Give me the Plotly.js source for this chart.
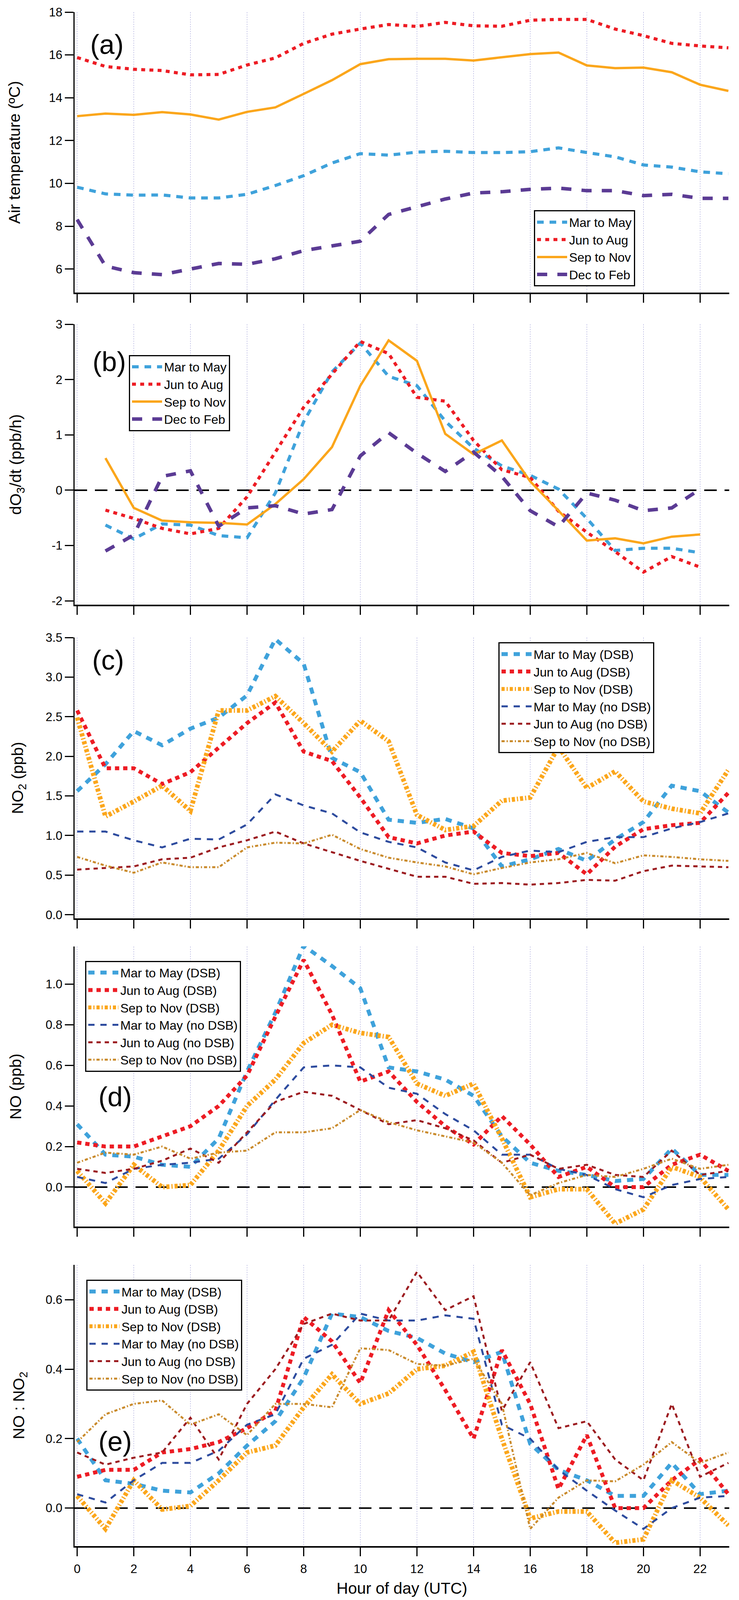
<!DOCTYPE html>
<html>
<head>
<meta charset="utf-8">
<script src="https://cdn.plot.ly/plotly-3.0.1.min.js"></script>
<style>
html, body { margin: 0; padding: 0; background: #ffffff; overflow: hidden; }
#chart { width: 1892px; }
</style>
</head>
<body>
<div id="chart"></div>
<script>
// ---------------- data ----------------
const hours = [0,1,2,3,4,5,6,7,8,9,10,11,12,13,14,15,16,17,18,19,20,21,22,23];
const hoursB = [1,2,3,4,5,6,7,8,9,10,11,12,13,14,15,16,17,18,19,20,21,22];

const seasonNames = ['Mar to May', 'Jun to Aug', 'Sep to Nov', 'Dec to Feb'];
const dsbNames = ['Mar to May (DSB)', 'Jun to Aug (DSB)', 'Sep to Nov (DSB)',
                  'Mar to May (no DSB)', 'Jun to Aug (no DSB)', 'Sep to Nov (no DSB)'];

// (a) Air temperature (ºC)
const tempMarMay = [9.82,9.51,9.45,9.46,9.32,9.32,9.49,9.90,10.36,10.95,11.39,11.32,11.46,11.50,11.44,11.44,11.48,11.66,11.44,11.24,10.86,10.76,10.54,10.45];
const tempJunAug = [15.88,15.46,15.33,15.27,15.07,15.09,15.53,15.86,16.54,16.97,17.21,17.42,17.33,17.52,17.36,17.34,17.62,17.66,17.66,17.21,16.90,16.54,16.42,16.33];
const tempSepNov = [13.14,13.26,13.20,13.33,13.22,12.98,13.34,13.55,14.18,14.82,15.57,15.80,15.82,15.82,15.74,15.88,16.04,16.11,15.51,15.38,15.41,15.19,14.61,14.32];
const tempDecFeb = [8.31,6.14,5.83,5.74,6.00,6.26,6.22,6.48,6.86,7.06,7.30,8.55,8.90,9.27,9.55,9.61,9.72,9.78,9.66,9.66,9.43,9.49,9.30,9.30];

// (b) dO3/dt (ppb/h), hours 1..22
const do3MarMay = [-0.63,-0.88,-0.61,-0.63,-0.82,-0.86,-0.05,1.24,2.14,2.66,2.06,1.89,1.25,0.76,0.44,0.27,0.02,-0.51,-1.09,-1.05,-1.05,-1.13];
const do3JunAug = [-0.36,-0.51,-0.69,-0.79,-0.69,-0.12,0.69,1.50,2.10,2.69,2.47,1.68,1.61,0.90,0.37,0.23,-0.38,-0.76,-1.11,-1.48,-1.20,-1.39];
const do3SepNov = [0.58,-0.32,-0.55,-0.58,-0.59,-0.62,-0.25,0.20,0.78,1.89,2.71,2.34,1.02,0.65,0.90,0.16,-0.37,-0.91,-0.87,-0.96,-0.84,-0.80];
const do3DecFeb = [-1.10,-0.81,0.25,0.35,-0.65,-0.32,-0.28,-0.43,-0.35,0.62,1.04,0.67,0.34,0.69,0.25,-0.37,-0.66,-0.05,-0.18,-0.37,-0.32,0.02];

// (c) NO2 (ppb)
const no2MarMayDSB = [1.56,1.90,2.32,2.14,2.35,2.49,2.77,3.48,3.17,1.98,1.80,1.20,1.16,1.21,1.09,0.61,0.70,0.83,0.68,0.95,1.17,1.63,1.56,1.29];
const no2JunAugDSB = [2.58,1.85,1.85,1.65,1.80,2.11,2.42,2.68,2.06,1.94,1.48,0.98,0.90,1.00,1.05,0.78,0.74,0.78,0.51,0.86,1.08,1.13,1.16,1.54];
const no2SepNovDSB = [2.49,1.24,1.43,1.63,1.31,2.58,2.58,2.76,2.42,2.06,2.45,2.19,1.26,1.07,1.12,1.44,1.48,2.12,1.60,1.81,1.43,1.34,1.28,1.83];
const no2MarMayNo  = [1.05,1.05,0.94,0.85,0.96,0.95,1.14,1.52,1.38,1.28,1.04,0.92,0.85,0.66,0.56,0.73,0.81,0.79,0.92,0.98,0.98,1.09,1.17,1.28];
const no2JunAugNo  = [0.57,0.59,0.61,0.70,0.72,0.85,0.94,1.05,0.90,0.79,0.68,0.58,0.48,0.48,0.39,0.40,0.38,0.40,0.44,0.43,0.55,0.62,0.61,0.60];
const no2SepNovNo  = [0.73,0.62,0.53,0.66,0.60,0.60,0.85,0.91,0.90,1.01,0.83,0.72,0.66,0.61,0.51,0.59,0.66,0.70,0.78,0.65,0.75,0.73,0.70,0.68];

// (d) NO (ppb)
const noMarMayDSB = [0.31,0.16,0.15,0.11,0.10,0.24,0.57,0.86,1.19,1.09,0.98,0.59,0.57,0.53,0.45,0.25,0.12,0.08,0.06,0.03,0.04,0.19,0.06,0.06];
const noJunAugDSB = [0.22,0.20,0.20,0.25,0.30,0.40,0.55,0.84,1.12,0.85,0.52,0.57,0.42,0.30,0.21,0.35,0.21,0.05,0.10,0.00,0.00,0.11,0.16,0.08];
const noSepNovDSB = [0.08,-0.08,0.11,0.00,0.01,0.18,0.40,0.53,0.71,0.80,0.76,0.74,0.51,0.45,0.51,0.24,-0.05,-0.01,-0.01,-0.18,-0.11,0.10,0.05,-0.11];
const noMarMayNo  = [0.05,0.02,0.09,0.11,0.12,0.14,0.26,0.43,0.59,0.60,0.59,0.49,0.46,0.36,0.28,0.16,0.16,0.09,0.06,-0.01,-0.05,0.01,0.04,0.05];
const noJunAugNo  = [0.09,0.07,0.09,0.13,0.19,0.12,0.27,0.42,0.47,0.45,0.38,0.31,0.33,0.29,0.23,0.12,0.16,0.09,0.11,0.06,0.05,0.18,0.06,0.08];
const noSepNovNo  = [0.12,0.17,0.16,0.20,0.14,0.17,0.18,0.27,0.27,0.29,0.38,0.32,0.28,0.25,0.22,0.12,-0.04,0.02,0.06,0.05,0.09,0.14,0.09,0.11];

// (e) NO : NO2
const ratioMarMayDSB = [0.20,0.08,0.07,0.05,0.045,0.10,0.18,0.25,0.375,0.56,0.55,0.51,0.49,0.445,0.42,0.45,0.185,0.11,0.08,0.035,0.035,0.13,0.04,0.05];
const ratioJunAugDSB = [0.09,0.11,0.11,0.16,0.17,0.19,0.23,0.28,0.55,0.48,0.36,0.57,0.47,0.34,0.20,0.455,0.30,0.055,0.21,0.00,0.00,0.08,0.14,0.04];
const ratioSepNovDSB = [0.035,-0.06,0.08,-0.004,0.006,0.08,0.16,0.18,0.29,0.385,0.30,0.33,0.40,0.41,0.45,0.20,-0.03,-0.01,-0.01,-0.10,-0.09,0.08,0.03,-0.05];
const ratioMarMayNo  = [0.04,0.016,0.08,0.13,0.13,0.165,0.24,0.27,0.43,0.47,0.56,0.54,0.54,0.555,0.545,0.24,0.20,0.11,0.05,-0.007,-0.06,0.00,0.03,0.035];
const ratioJunAugNo  = [0.16,0.125,0.145,0.16,0.26,0.14,0.30,0.40,0.53,0.56,0.54,0.54,0.68,0.57,0.61,0.28,0.42,0.23,0.25,0.14,0.08,0.30,0.09,0.13];
const ratioSepNovNo  = [0.19,0.27,0.30,0.31,0.24,0.27,0.21,0.30,0.30,0.29,0.46,0.455,0.415,0.41,0.43,0.30,-0.06,0.03,0.08,0.077,0.125,0.19,0.13,0.16];

// ticks
const xTickVals = [0,2,4,6,8,10,12,14,16,18,20,22];
const xTickText = ['0','2','4','6','8','10','12','14','16','18','20','22'];
const yTickValsA = [6,8,10,12,14,16,18];
const yTickTextA = ['6','8','10','12','14','16','18'];
const yTickValsB = [-2,-1,0,1,2,3];
const yTickTextB = ['-2','-1','0','1','2','3'];
const yTickValsC = [0,0.5,1,1.5,2,2.5,3,3.5];
const yTickTextC = ['0.0','0.5','1.0','1.5','2.0','2.5','3.0','3.5'];
const yTickValsD = [0,0.2,0.4,0.6,0.8,1.0];
const yTickTextD = ['0.0','0.2','0.4','0.6','0.8','1.0'];
const yTickValsE = [0,0.2,0.4,0.6];
const yTickTextE = ['0.0','0.2','0.4','0.6'];

// ---------------- styles ----------------
const FONT = 'Liberation Sans, Arial, Helvetica, sans-serif';
const C = {
  lightBlue: '#3FA2DB', red: '#ED1C24', orange: '#FBA61B', purple: '#5B3B94',
  darkBlue: '#2D4B9E', darkRed: '#9C1C20', gold: '#C98A2B'
};
const seasonStyles = [
  {color: C.lightBlue, width: 8, dash: '17px,15px'},
  {color: C.red, width: 8, dash: '10px,11px'},
  {color: C.orange, width: 6, dash: 'solid'},
  {color: C.purple, width: 9, dash: '26px,26px'}
];
const dsbStyles = [
  {color: C.lightBlue, width: 10, dash: '16px,15px'},
  {color: C.red, width: 10, dash: '11px,10px'},
  {color: C.orange, width: 12, dash: '8px,5px,3px,5px'},
  {color: C.darkBlue, width: 5, dash: '16px,15px'},
  {color: C.darkRed, width: 5, dash: '11px,10px'},
  {color: C.gold, width: 5, dash: '8px,5px,3px,5px'}
];

function mk(x, y, name, style, ax, leg) {
  return {
    type: 'scatter', mode: 'lines', x: x, y: y, name: name,
    line: {color: style.color, width: style.width, dash: style.dash},
    xaxis: 'x' + ax, yaxis: 'y' + ax, legend: leg, hoverinfo: 'skip'
  };
}

const traces = [];
[tempMarMay, tempJunAug, tempSepNov, tempDecFeb].forEach((d, i) =>
  traces.push(mk(hours, d, seasonNames[i], seasonStyles[i], '', 'legend')));
[do3MarMay, do3JunAug, do3SepNov, do3DecFeb].forEach((d, i) =>
  traces.push(mk(hoursB, d, seasonNames[i], seasonStyles[i], '2', 'legend2')));
[no2MarMayDSB, no2JunAugDSB, no2SepNovDSB, no2MarMayNo, no2JunAugNo, no2SepNovNo].forEach((d, i) =>
  traces.push(mk(hours, d, dsbNames[i], dsbStyles[i], '3', 'legend3')));
[noMarMayDSB, noJunAugDSB, noSepNovDSB, noMarMayNo, noJunAugNo, noSepNovNo].forEach((d, i) =>
  traces.push(mk(hours, d, dsbNames[i], dsbStyles[i], '4', 'legend4')));
[ratioMarMayDSB, ratioJunAugDSB, ratioSepNovDSB, ratioMarMayNo, ratioJunAugNo, ratioSepNovNo].forEach((d, i) =>
  traces.push(mk(hours, d, dsbNames[i], dsbStyles[i], '5', 'legend5')));

// ---------------- layout ----------------
const W = 1892;
const REF_H = 4260;
const vh = window.innerHeight || REF_H;
const H = Math.min(REF_H, vh);
const s = H / REF_H;                 // vertical fit factor (1 when the viewport is full size)
document.getElementById('chart').style.height = H + 'px';
const sy = p => p * s;

const M = {l: 191, r: 25, t: Math.round(sy(32)), b: Math.round(sy(144))};
const plotW = W - M.l - M.r, plotH = H - M.t - M.b;
const px2x = p => (p - M.l) / plotW;
const px2y = p => (H - M.b - sy(p)) / plotH;

// panel vertical extents in reference pixels (top, bottom)
const panels = [[32, 779], [863.5, 1610], [1697.6, 2444.7], [2519.5, 3266], [3368, 4116]];
const dom = panels.map(p => [Math.max(0, px2y(p[1])), Math.min(1, px2y(p[0]))]);

function xAxis(i, showLabels) {
  const a = {
    domain: [0, 1], range: [-0.09, 23.03], anchor: 'y' + (i === 0 ? '' : i + 1),
    tickmode: 'array', tickvals: xTickVals, ticktext: xTickText,
    showticklabels: showLabels, ticks: 'outside', ticklen: 22, tickwidth: 3, tickcolor: '#000',
    showline: true, linewidth: 4, linecolor: '#000',
    showgrid: true, gridcolor: '#9a9ad6', gridwidth: 1.5, griddash: 'dot',
    zeroline: false, fixedrange: true,
    tickfont: {family: FONT, size: 31, color: '#000'}
  };
  if (showLabels) {
    a.ticklabelstandoff = 6;
    a.title = {text: 'Hour of day (UTC)', font: {family: FONT, size: 41, color: '#000'}, standoff: 20};
  }
  return a;
}
function yAxis(i, range, vals, text, title, standoff) {
  return {
    domain: dom[i], range: range, anchor: 'x' + (i === 0 ? '' : i + 1),
    tickmode: 'array', tickvals: vals, ticktext: text,
    ticks: 'outside', ticklen: 22, tickwidth: 3, tickcolor: '#000',
    showline: true, linewidth: 3, linecolor: '#000',
    showgrid: false, zeroline: false, fixedrange: true,
    tickfont: {family: FONT, size: 31, color: '#000'},
    title: {text: title, font: {family: FONT, size: 41, color: '#000'}, standoff: standoff}
  };
}
function legendAt(leftPx, topPx) {
  return {
    x: px2x(leftPx), y: px2y(topPx), xref: 'paper', yref: 'paper',
    xanchor: 'left', yanchor: 'top',
    bgcolor: '#ffffff', bordercolor: '#000000', borderwidth: 3,
    font: {family: FONT, size: 32, color: '#000'},
    itemwidth: 77, traceorder: 'normal', tracegroupgap: 0
  };
}
function zeroLine(i) {
  const k = i === 0 ? '' : String(i + 1);
  return {type: 'line', xref: 'x' + k + ' domain', yref: 'y' + k, x0: 0, x1: 1, y0: 0, y1: 0,
          line: {color: '#000', width: 4, dash: '32px,20px'}, layer: 'below'};
}
function label(text, cx, cy) {
  return {text: text, x: px2x(cx), y: px2y(cy), xref: 'paper', yref: 'paper',
          xanchor: 'center', yanchor: 'middle', showarrow: false,
          font: {family: FONT, size: 70, color: '#000'}};
}

const layout = {
  width: W, height: H, margin: M,
  paper_bgcolor: '#ffffff', plot_bgcolor: '#ffffff',
  font: {family: FONT, color: '#000'},
  showlegend: true,
  xaxis: xAxis(0, false), xaxis2: xAxis(1, false), xaxis3: xAxis(2, false),
  xaxis4: xAxis(3, false), xaxis5: xAxis(4, true),
  yaxis:  yAxis(0, [4.9, 18.0], yTickValsA, yTickTextA, 'Air temperature (ºC)', 61),
  yaxis2: yAxis(1, [-2.07, 3.0], yTickValsB, yTickTextB, 'dO<sub>3</sub>/dt (ppb/h)', 65),
  yaxis3: yAxis(2, [-0.044, 3.5], yTickValsC, yTickTextC, 'NO<sub>2</sub> (ppb)', 45),
  yaxis4: yAxis(3, [-0.195, 1.187], yTickValsD, yTickTextD, 'NO (ppb)', 50),
  yaxis5: yAxis(4, [-0.109, 0.70], yTickValsE, yTickTextE, 'NO : NO<sub>2</sub>', 42),
  legend: legendAt(1367, 560),
  legend2: legendAt(330, 945),
  legend3: legendAt(1276, 1710),
  legend4: legendAt(218, 2558),
  legend5: legendAt(221, 3407),
  shapes: [zeroLine(1), zeroLine(3), zeroLine(4)],
  annotations: [
    label('(a)', 274, 119), label('(b)', 280, 963), label('(c)', 277, 1758),
    label('(d)', 295, 2920), label('(e)', 295, 3838)
  ]
};

Plotly.newPlot('chart', traces, layout, {displayModeBar: false, staticPlot: true});
</script>
</body>
</html>
